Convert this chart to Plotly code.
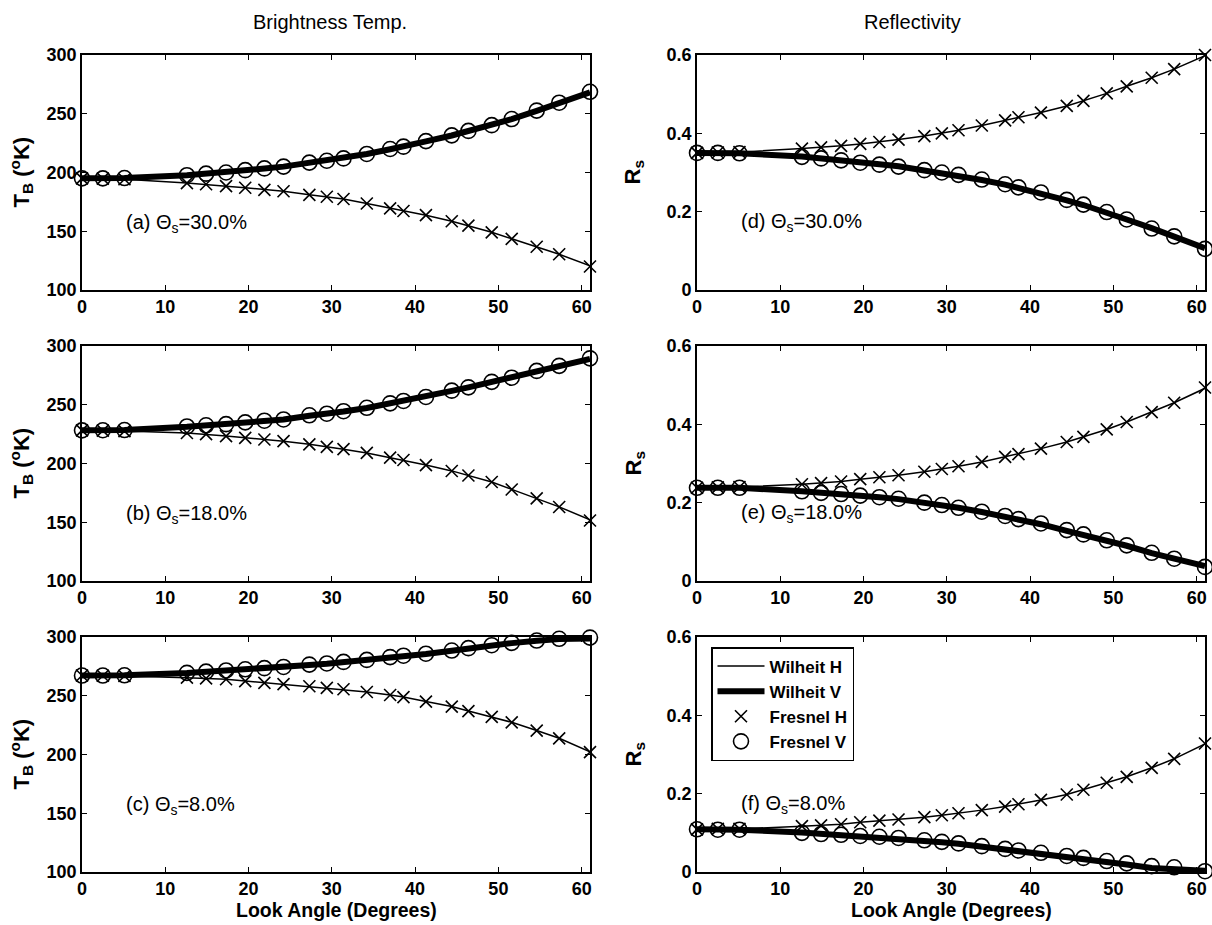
import plotly.graph_objects as go
from plotly.subplots import make_subplots

# ---------------- data ----------------
angle = [0, 2.5, 5.1, 12.6, 14.9, 17.3, 19.6, 21.9, 24.2, 27.3, 29.4, 31.4,
         34.2, 37.0, 38.6, 41.3, 44.4, 46.4, 49.2, 51.6, 54.6, 57.3, 61.0]

x_ticks = [0, 10, 20, 30, 40, 50, 60]
tb_ticks = [100, 150, 200, 250, 300]
rs_ticks = [0, 0.2, 0.4, 0.6]
rs_tick_text = ["0", "0.2", "0.4", "0.6"]

# (a) Theta_s = 30 %
tb_a_wilheit_h = [195, 194.8, 194.3, 191, 190, 188.4, 187, 185.3, 184, 181, 179.4, 177.4,
                  173.7, 169.6, 167.3, 163.7, 158.5, 154.8, 149.2, 143.6, 136.8, 130.4, 120.5]
tb_a_wilheit_v = [195, 195, 195.3, 197.6, 198.8, 200, 201.8, 203.4, 205, 208.2, 210, 212.2,
                  215.8, 219.8, 222, 226.5, 231.5, 235.2, 240.3, 245.4, 252.4, 259.2, 268.2]
tb_a_fresnel_h = [195, 194.8, 194.3, 191, 190, 188.4, 187, 185.2, 184, 181, 179.4, 177.4,
                  173.6, 169.5, 167.2, 163.7, 158.5, 154.8, 149, 143.5, 136.8, 130.4, 120]
tb_a_fresnel_v = [195, 195, 195.3, 197.7, 199, 200, 202, 203.5, 205, 208.4, 210, 212,
                  215.8, 220, 222, 226.7, 231.6, 235.4, 240.3, 245.5, 252.7, 259.4, 268.7]

# (b) Theta_s = 18 %
tb_b_wilheit_h = [228.2, 228, 227.6, 226, 225, 223.4, 221.9, 220.4, 219, 216.3, 214.3, 212.2,
                  209, 205.1, 203, 198.7, 193.7, 189.9, 184.3, 178, 170.4, 163.1, 152]
tb_b_wilheit_v = [228.2, 228.3, 228.5, 231.2, 232.2, 233.3, 234.7, 236, 237.4, 240.6, 242.2, 244.3,
                  247.3, 251, 253, 256.6, 261.8, 264.8, 269.3, 273.2, 278.6, 283, 289]
tb_b_fresnel_h = [228.2, 228, 227.6, 226, 225, 223.3, 221.8, 220.4, 219, 216.3, 214.2, 212.2,
                  209, 205, 203, 198.6, 193.6, 189.8, 184.3, 177.9, 170.3, 163, 151.5]
tb_b_fresnel_v = [228.2, 228.3, 228.5, 231.5, 232.5, 233.5, 235, 236.4, 237.5, 241, 242.4, 244.5,
                  247.4, 251.2, 253.2, 256.6, 262, 264.8, 269.5, 273, 278.8, 283.1, 289.5]

# (c) Theta_s = 8 %
tb_c_wilheit_h = [267.2, 267, 266.8, 265.4, 264.8, 264, 262.6, 261.1, 260, 258.2, 256.8, 255.5,
                  253.2, 250.7, 248.9, 245.1, 240.8, 237, 232.1, 227.4, 220.4, 213.8, 202.2]
tb_c_wilheit_v = [267.2, 267.2, 267.4, 269.3, 270.2, 271.2, 272.2, 273.2, 274.2, 276.2, 277.2, 278.5,
                  280.3, 282.6, 283.9, 285.6, 288.3, 290.3, 292.8, 294.8, 296.8, 298.2, 298.8]
tb_c_fresnel_h = [267.2, 267, 266.8, 265.4, 264.8, 264, 262.5, 261, 259.9, 258.1, 256.7, 255.5,
                  253.2, 250.6, 248.8, 245, 240.7, 236.9, 232, 227.3, 220.3, 213.7, 202]
tb_c_fresnel_v = [267.2, 267.2, 267.4, 269.5, 270.5, 271.5, 272.5, 273.5, 274.5, 276.5, 277.5, 278.8,
                  280.5, 282.9, 284.1, 285.8, 288.5, 290.5, 293, 295, 297, 298.5, 299.5]

# (d) Theta_s = 30 %
rs_d_wilheit_h = [0.350, 0.351, 0.352, 0.361, 0.364, 0.368, 0.373, 0.378, 0.384, 0.393, 0.400, 0.408,
                  0.420, 0.433, 0.441, 0.453, 0.470, 0.483, 0.502, 0.520, 0.542, 0.564, 0.598]
rs_d_wilheit_v = [0.350, 0.350, 0.349, 0.341, 0.337, 0.332, 0.326, 0.321, 0.316, 0.306, 0.300, 0.293,
                  0.281, 0.269, 0.261, 0.248, 0.229, 0.217, 0.199, 0.180, 0.158, 0.138, 0.107]
rs_d_fresnel_h = [0.350, 0.351, 0.352, 0.361, 0.364, 0.368, 0.373, 0.378, 0.384, 0.393, 0.400, 0.408,
                  0.420, 0.433, 0.441, 0.453, 0.470, 0.483, 0.502, 0.520, 0.542, 0.564, 0.600]
rs_d_fresnel_v = [0.350, 0.350, 0.349, 0.340, 0.336, 0.331, 0.325, 0.320, 0.315, 0.306, 0.300, 0.294,
                  0.282, 0.270, 0.262, 0.249, 0.230, 0.218, 0.199, 0.180, 0.157, 0.137, 0.105]

# (e) Theta_s = 18 %
rs_e_wilheit_h = [0.238, 0.239, 0.240, 0.247, 0.250, 0.254, 0.260, 0.265, 0.270, 0.279, 0.286, 0.293,
                  0.304, 0.317, 0.324, 0.338, 0.355, 0.368, 0.387, 0.406, 0.431, 0.455, 0.492]
rs_e_wilheit_v = [0.238, 0.238, 0.238, 0.229, 0.226, 0.222, 0.218, 0.214, 0.209, 0.200, 0.194, 0.187,
                  0.176, 0.165, 0.157, 0.145, 0.128, 0.118, 0.103, 0.090, 0.071, 0.056, 0.038]
rs_e_fresnel_h = [0.238, 0.239, 0.240, 0.247, 0.250, 0.254, 0.260, 0.265, 0.270, 0.279, 0.286, 0.293,
                  0.304, 0.317, 0.324, 0.338, 0.355, 0.368, 0.387, 0.406, 0.431, 0.455, 0.494]
rs_e_fresnel_v = [0.238, 0.238, 0.238, 0.229, 0.225, 0.222, 0.218, 0.214, 0.210, 0.200, 0.194, 0.187,
                  0.177, 0.166, 0.158, 0.147, 0.130, 0.119, 0.104, 0.091, 0.072, 0.057, 0.036]

# (f) Theta_s = 8 %
rs_f_wilheit_h = [0.109, 0.110, 0.110, 0.117, 0.119, 0.122, 0.127, 0.131, 0.134, 0.140, 0.145, 0.150,
                  0.158, 0.167, 0.173, 0.184, 0.198, 0.210, 0.228, 0.243, 0.266, 0.289, 0.327]
rs_f_wilheit_v = [0.109, 0.108, 0.108, 0.101, 0.098, 0.095, 0.092, 0.089, 0.086, 0.080, 0.076, 0.072,
                  0.065, 0.058, 0.054, 0.047, 0.039, 0.033, 0.025, 0.019, 0.010, 0.006, 0.003]
rs_f_fresnel_h = [0.109, 0.110, 0.110, 0.117, 0.119, 0.122, 0.127, 0.131, 0.134, 0.140, 0.145, 0.150,
                  0.158, 0.167, 0.173, 0.184, 0.198, 0.210, 0.228, 0.243, 0.266, 0.289, 0.328]
rs_f_fresnel_v = [0.109, 0.108, 0.108, 0.100, 0.097, 0.095, 0.092, 0.090, 0.087, 0.081, 0.077, 0.073,
                  0.066, 0.059, 0.055, 0.049, 0.041, 0.036, 0.028, 0.022, 0.015, 0.012, 0.002]

panel_labels = ["(a) Θ<sub>s</sub>=30.0%", "(d) Θ<sub>s</sub>=30.0%",
                "(b) Θ<sub>s</sub>=18.0%", "(e) Θ<sub>s</sub>=18.0%",
                "(c) Θ<sub>s</sub>=8.0%", "(f) Θ<sub>s</sub>=8.0%"]
legend_names = ["Wilheit H", "Wilheit V", "Fresnel H", "Fresnel V"]

# ---------------- figure ----------------
FONT = "Liberation Sans, Arial, Helvetica, sans-serif"
W, H = 1212, 925

fig = make_subplots(rows=3, cols=2)

panels = [
    (1, 1, tb_a_wilheit_h, tb_a_wilheit_v, tb_a_fresnel_h, tb_a_fresnel_v),
    (1, 2, rs_d_wilheit_h, rs_d_wilheit_v, rs_d_fresnel_h, rs_d_fresnel_v),
    (2, 1, tb_b_wilheit_h, tb_b_wilheit_v, tb_b_fresnel_h, tb_b_fresnel_v),
    (2, 2, rs_e_wilheit_h, rs_e_wilheit_v, rs_e_fresnel_h, rs_e_fresnel_v),
    (3, 1, tb_c_wilheit_h, tb_c_wilheit_v, tb_c_fresnel_h, tb_c_fresnel_v),
    (3, 2, rs_f_wilheit_h, rs_f_wilheit_v, rs_f_fresnel_h, rs_f_fresnel_v),
]

for idx, (r, c, wh, wv, fh, fv) in enumerate(panels):
    show = (idx == 5)
    fig.add_trace(go.Scatter(x=angle, y=wh, mode="lines", name=legend_names[0],
                             line=dict(color="black", width=1.5), legendgroup="g1",
                             showlegend=show, cliponaxis=False), row=r, col=c)
    fig.add_trace(go.Scatter(x=angle, y=wv, mode="lines", name=legend_names[1],
                             line=dict(color="black", width=6), legendgroup="g2",
                             showlegend=show, cliponaxis=False), row=r, col=c)
    fig.add_trace(go.Scatter(x=angle, y=fh, mode="markers", name=legend_names[2],
                             marker=dict(symbol="x-thin-open", size=12, color="black",
                                         line=dict(color="black", width=1.6)),
                             legendgroup="g3", showlegend=show, cliponaxis=False), row=r, col=c)
    fig.add_trace(go.Scatter(x=angle, y=fv, mode="markers", name=legend_names[3],
                             marker=dict(symbol="circle-open", size=15, color="black",
                                         line=dict(color="black", width=1.6)),
                             legendgroup="g4", showlegend=show, cliponaxis=False), row=r, col=c)

x_pix = {1: (82, 590), 2: (697, 1205)}
y_pix = {1: (55, 290), 2: (346, 581), 3: (637, 872)}
x_dom = {c: [a / W, b / W] for c, (a, b) in x_pix.items()}
y_dom = {r: [1 - b / H, 1 - t / H] for r, (t, b) in y_pix.items()}

axis_common = dict(showline=True, linecolor="black", linewidth=1.6, mirror="ticks",
                   ticks="inside", ticklen=5, tickwidth=1, tickcolor="black",
                   showgrid=False, zeroline=False, automargin=False,
                   tickfont=dict(family=FONT, size=18, color="black", weight="bold"))

for r in (1, 2, 3):
    for c in (1, 2):
        fig.update_xaxes(domain=x_dom[c], range=[0, 61], tickvals=x_ticks, row=r, col=c,
                         **axis_common)
        if c == 1:
            fig.update_yaxes(domain=y_dom[r], range=[100, 300], tickvals=tb_ticks,
                             row=r, col=c, **axis_common)
        else:
            fig.update_yaxes(domain=y_dom[r], range=[0, 0.6], tickvals=rs_ticks,
                             ticktext=rs_tick_text, row=r, col=c, **axis_common)

annotations = []
axis_ids = ["", "2", "3", "4", "5", "6"]
for i, lab in enumerate(panel_labels):
    yv = 157 if i % 2 == 0 else 0.172
    annotations.append(dict(x=5, y=yv, xref="x" + axis_ids[i], yref="y" + axis_ids[i],
                            text=lab, showarrow=False, xanchor="left", yanchor="middle",
                            font=dict(family=FONT, size=20, color="black")))

# column titles
annotations.append(dict(x=330 / W, y=1 - 22 / H, xref="paper", yref="paper",
                        text="Brightness Temp.", showarrow=False, xanchor="center",
                        yanchor="middle", font=dict(family=FONT, size=20, color="black")))
annotations.append(dict(x=912 / W, y=1 - 22 / H, xref="paper", yref="paper",
                        text="Reflectivity", showarrow=False, xanchor="center",
                        yanchor="middle", font=dict(family=FONT, size=20, color="black")))

# y titles
for r in (1, 2, 3):
    t, b = y_pix[r]
    yc = 1 - ((t + b) / 2) / H
    annotations.append(dict(x=21 / W, y=yc, xref="paper", yref="paper",
                            text="T<sub>B</sub> (<sup>o</sup>K)", textangle=-90,
                            showarrow=False, xanchor="center", yanchor="middle",
                            font=dict(family=FONT, size=22, color="black", weight="bold")))
    annotations.append(dict(x=634 / W, y=yc, xref="paper", yref="paper",
                            text="R<sub>s</sub>", textangle=-90,
                            showarrow=False, xanchor="center", yanchor="middle",
                            font=dict(family=FONT, size=22, color="black", weight="bold")))

# x titles
for c in (1, 2):
    xc = (x_dom[c][0] + x_dom[c][1]) / 2
    annotations.append(dict(x=xc, y=1 - 910 / H, xref="paper", yref="paper",
                            text="Look Angle (Degrees)", showarrow=False,
                            xanchor="center", yanchor="middle",
                            font=dict(family=FONT, size=19.5, color="black", weight="bold")))

fig.update_layout(
    width=W, height=H, template="none",
    paper_bgcolor="white", plot_bgcolor="white",
    margin=dict(l=0, r=0, t=0, b=0),
    annotations=annotations,
    showlegend=True,
    legend=dict(x=711 / W, y=1 - 647 / H, xanchor="left", yanchor="top",
                bgcolor="white", bordercolor="black", borderwidth=1.5,
                font=dict(family=FONT, size=17, color="black", weight="bold"),
                traceorder="grouped", tracegroupgap=0, itemwidth=47),
)

fig.write_html("out.html",
               config={"displayModeBar": False},
               post_script="document.body.style.margin='0';"
                           "document.body.style.overflow='hidden';"
                           "document.documentElement.style.overflow='hidden';")
